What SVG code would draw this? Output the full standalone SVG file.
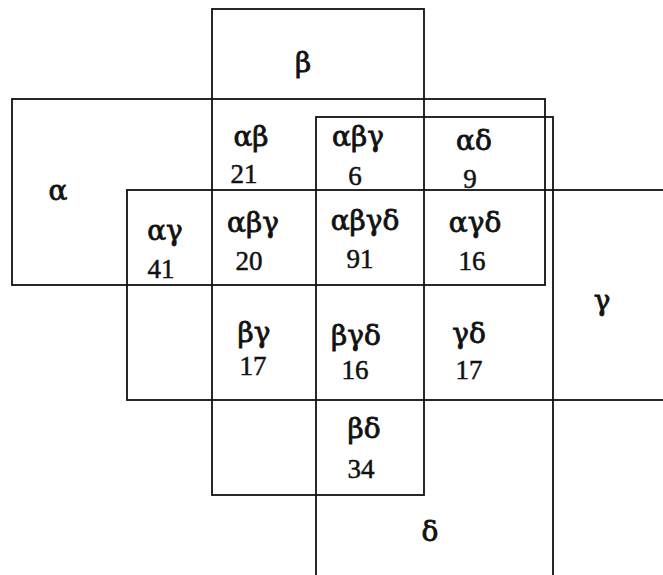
<svg xmlns="http://www.w3.org/2000/svg" width="663" height="575" viewBox="0 0 663 575">
<style>
.set{fill:none;stroke:#111;stroke-width:1.8}
text{font-family:"Liberation Serif","DejaVu Serif",serif;font-size:27px;fill:#111;stroke:#111;stroke-width:0.5;text-anchor:middle}
text.g{font-family:"DejaVu Serif","Liberation Serif",serif;font-size:28px;stroke-width:0.8}
</style>
<rect width="663" height="575" fill="#fff"/>
<g id="sets">
<rect id="set-beta" class="set" x="212" y="9" width="212" height="486"/>
<rect id="set-alpha" class="set" x="12" y="99" width="533" height="186"/>
<rect id="set-gamma" class="set" x="127" y="190" width="560" height="210"/>
<rect id="set-delta" class="set" x="316" y="117" width="237" height="480"/>
</g>
<g id="set-labels">
<text class="g" x="303" y="72">β</text>
<text class="g" x="58" y="200">α</text>
<text class="g" x="602" y="310">γ</text>
<text class="g" x="430" y="541">δ</text>
</g>
<g id="regions">
<g id="r-ab"><text class="g" x="251" y="146">αβ</text><text x="244" y="183">21</text></g>
<g id="r-abg1"><text class="g" x="358" y="146">αβγ</text><text x="355" y="185">6</text></g>
<g id="r-ad"><text class="g" x="474" y="150">αδ</text><text x="470" y="188">9</text></g>
<g id="r-ag"><text class="g" x="165" y="240">αγ</text><text x="161" y="278">41</text></g>
<g id="r-abg2"><text class="g" x="253" y="232">αβγ</text><text x="249" y="270">20</text></g>
<g id="r-abgd"><text class="g" x="365" y="230">αβγδ</text><text x="360" y="268">91</text></g>
<g id="r-agd"><text class="g" x="475" y="232">αγδ</text><text x="472" y="270">16</text></g>
<g id="r-bg"><text class="g" x="254" y="342">βγ</text><text x="253" y="375">17</text></g>
<g id="r-bgd"><text class="g" x="356" y="345">βγδ</text><text x="355" y="379">16</text></g>
<g id="r-gd"><text class="g" x="469" y="343">γδ</text><text x="469" y="379">17</text></g>
<g id="r-bd"><text class="g" x="364" y="438">βδ</text><text x="361" y="478">34</text></g>
</g>
</svg>
